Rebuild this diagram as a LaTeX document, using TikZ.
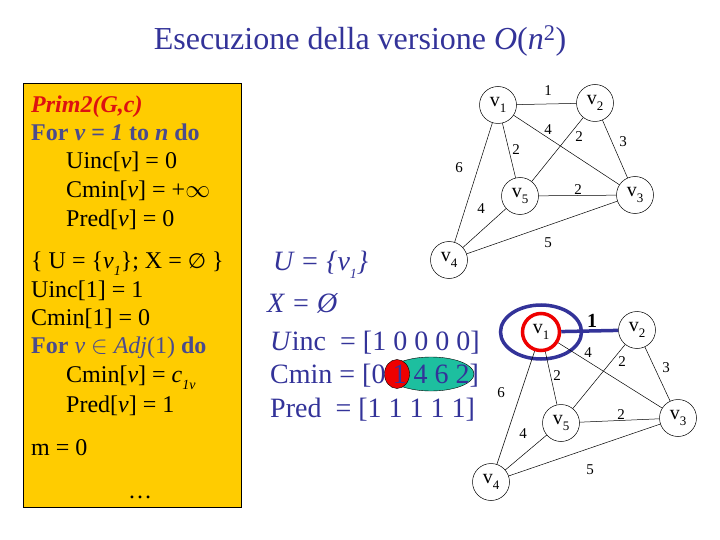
\documentclass[tikz,border=0pt]{standalone}
\usepackage{fontspec}
\setmainfont{Liberation Serif}
\newfontfamily\symf{DejaVu Sans}
\usetikzlibrary{shapes.geometric}
\definecolor{ybox}{HTML}{FFCC00}
\definecolor{tblue}{HTML}{333399}
\definecolor{slate}{HTML}{4B4B8C}
\definecolor{pred}{HTML}{DD1111}
\definecolor{teal1}{HTML}{1DBF9F}
\definecolor{hred}{HTML}{EE0000}
\newcommand{\sbs}[1]{\raisebox{-0.3em}{\fontsize{14}{14}\selectfont #1}}
\newcommand{\vv}[1]{v\raisebox{-0.3em}{\fontsize{13}{13}\selectfont #1}}
\begin{document}
\begin{tikzpicture}[x=1pt,y=-1pt,
  boxtext/.style={anchor=base west, inner sep=0pt, font=\fontsize{24}{28}\selectfont},
  midtext/.style={anchor=base west, inner sep=0pt, text=tblue, font=\fontsize{28}{32}\selectfont},
  vnode/.style={circle, draw=black, line width=0.5pt, minimum size=37pt, inner sep=0pt, font=\fontsize{20}{22}\selectfont},
  elab/.style={inner sep=0pt, font=\fontsize{15}{16}\selectfont},
  edgeline/.style={line width=0.5pt}]
\useasboundingbox (0,0) rectangle (720,540);
\fill[white] (0,0) rectangle (720,540);

% title
\node[anchor=base, inner sep=0pt, text=tblue, font=\fontsize{32}{35}\selectfont] (title) at (360,50)
  {Esecuzione della versione \textit{O}(\textit{n}\textsuperscript{2})};

% yellow box
\node[draw=black, line width=0.8pt, fill=ybox, minimum width=218pt, minimum height=424pt,
  anchor=north west, inner sep=0pt] (box) at (23,83) {};
\node[boxtext, text=pred] (l1) at (31,113) {\textbf{\textit{Prim2(G,c)}}};
\node[boxtext, text=slate] (l2) at (31,141) {\textbf{For \textit{v} = \textit{1} to \textit{n} do}};
\node[boxtext] (l3) at (66,169) {Uinc[\textit{v}] = 0};
\node[boxtext] (l4) at (66,197) {Cmin[\textit{v}] = +$\infty$};
\node[boxtext] (l5) at (66,226) {Pred[\textit{v}] = 0};
\node[boxtext] (l6) at (31,268) {\{ U = \{\textit{v}\sbs{\textit{1}}\}; X = {\symf\fontsize{21}{24}\selectfont ∅} \}};
\node[boxtext] (l7) at (31,297) {Uinc[1] = 1};
\node[boxtext] (l8) at (31,325) {Cmin[1] = 0};
\node[boxtext, text=slate] (l9) at (31,353) {\textbf{For} \textit{v} $\in$ \textit{Adj}(1) \textbf{do}};
\node[boxtext] (l10) at (66,382) {Cmin[\textit{v}] = \textit{c}\sbs{\textit{1v}}};
\node[boxtext] (l11) at (66,412) {Pred[\textit{v}] = 1};
\node[boxtext] (l12) at (31,455) {m = 0};
\node[boxtext, anchor=base] (l13) at (140,498) {…};

% middle text
\node[ellipse, fill=teal1, draw=black, line width=0.4pt, minimum width=86pt, minimum height=34pt, inner sep=0pt] (tealell) at (431,374) {};
\node[ellipse, fill=hred, draw=black, line width=0.4pt, minimum width=25pt, minimum height=29pt, inner sep=0pt] (redell) at (397,374) {};
\node[midtext] (m1) at (273,270) {\textit{U = \{v\sbs{1}\}}};
\node[midtext] (m2) at (267,312) {\textit{X = Ø}};
\node[midtext] (m3) at (270,350) {\textit{U}inc \ = [1 0 0 0 0]};
\node[midtext] (m4) at (270,383) {Cmin = [0 1 4 6 2]};
\node[midtext] (m5) at (270,417) {Pred \ = [1 1 1 1 1]};

% graph 1
\node[vnode] (a1) at (498,105) {\vv{1}};
\node[vnode] (a2) at (595,103) {\vv{2}};
\node[vnode] (a5) at (520,196) {\vv{5}};
\node[vnode] (a3) at (635,195) {\vv{3}};
\node[vnode] (a4) at (449,260) {\vv{4}};
\draw[edgeline] (a1) -- (a2);
\draw[edgeline] (a1) -- (a3);
\draw[edgeline] (a2) -- (a5);
\draw[edgeline] (a2) -- (a3);
\draw[edgeline] (a1) -- (a5);
\draw[edgeline] (a1) -- (a4);
\draw[edgeline] (a4) -- (a5);
\draw[edgeline] (a5) -- (a3);
\draw[edgeline] (a4) -- (a3);
\node[elab] (e1) at (548,91) {1};
\node[elab] (e2) at (548,130) {4};
\node[elab] (e3) at (579,137) {2};
\node[elab] (e4) at (623,142) {3};
\node[elab] (e5) at (516,150) {2};
\node[elab] (e6) at (459,168) {6};
\node[elab] (e7) at (481,209) {4};
\node[elab] (e8) at (578,190) {2};
\node[elab] (e9) at (548,243) {5};

% graph 2
\node[ellipse, draw=tblue, line width=3.5pt, minimum width=81pt, minimum height=54pt, inner sep=0pt] (blueell) at (541,332) {};
\node[vnode, draw=hred, line width=3.5pt] (b1) at (541,332) {\vv{1}};
\node[vnode] (b2) at (637,330) {\vv{2}};
\node[vnode] (b5) at (561,423) {\vv{5}};
\node[vnode] (b3) at (678,418) {\vv{3}};
\node[vnode] (b4) at (491,482) {\vv{4}};
\draw[line width=3.5pt, draw=tblue] (b1) -- (b2);
\draw[edgeline] (b1) -- (b3);
\draw[edgeline] (b2) -- (b5);
\draw[edgeline] (b2) -- (b3);
\draw[edgeline] (b1) -- (b5);
\draw[edgeline] (b1) -- (b4);
\draw[edgeline] (b4) -- (b5);
\draw[edgeline] (b5) -- (b3);
\draw[edgeline] (b4) -- (b3);
\node[elab, font=\bfseries\fontsize{20}{22}\selectfont] (f1) at (592,321) {1};
\node[elab] (f2) at (588,353) {4};
\node[elab] (f3) at (622,362) {2};
\node[elab] (f4) at (666,368) {3};
\node[elab] (f5) at (557,376) {2};
\node[elab] (f6) at (501,393) {6};
\node[elab] (f7) at (523,434) {4};
\node[elab] (f8) at (621,415) {2};
\node[elab] (f9) at (590,470) {5};
\end{tikzpicture}
\end{document}
